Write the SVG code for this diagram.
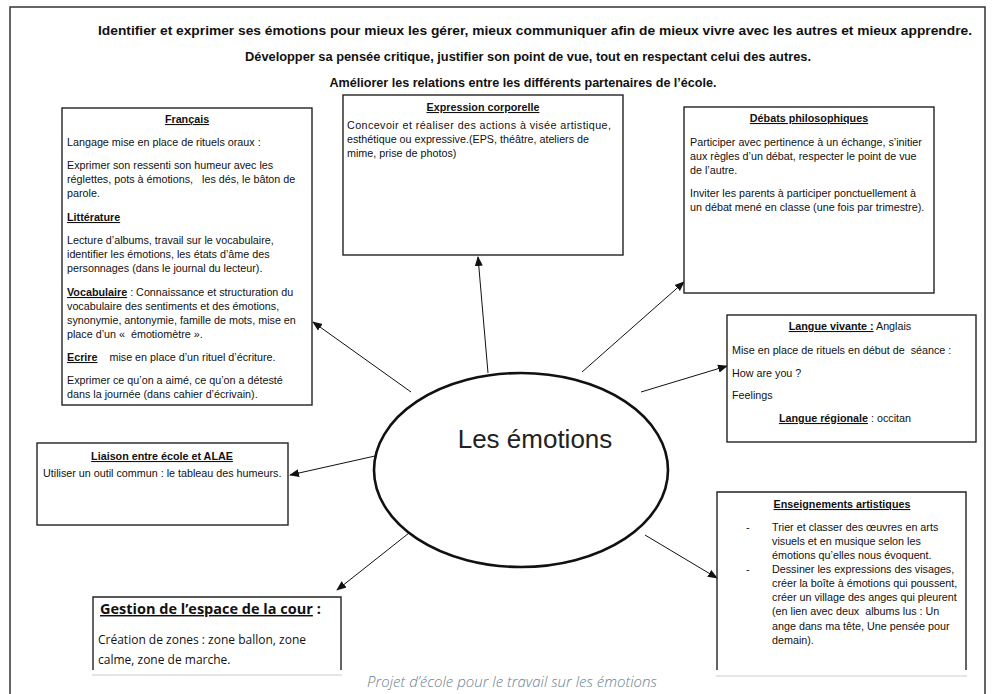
<svg xmlns="http://www.w3.org/2000/svg" width="997" height="694" viewBox="0 0 997 694">
<defs>
<marker id="ah" viewBox="0 0 10 10" refX="9" refY="5" markerWidth="10" markerHeight="10" markerUnits="userSpaceOnUse" orient="auto">
<path d="M0,1 L10,5 L0,9 z" fill="#111"/>
</marker>
<style>
.box{fill:#fff;stroke:#222;stroke-width:1.4}
.t{font-family:"Liberation Sans",Arial,sans-serif;font-size:10.75px;fill:#111;white-space:pre}
.h{font-family:"Liberation Sans",Arial,sans-serif;font-size:10.75px;font-weight:bold;fill:#111;text-decoration:underline}
.hd{font-family:"Liberation Sans",Arial,sans-serif;font-size:12.5px;font-weight:bold;fill:#111}
.c{font-family:"Open Sans","Noto Sans",sans-serif;font-size:12px;fill:#111}
.ct{font-family:"Open Sans","Noto Sans",sans-serif;font-size:14.5px;font-weight:bold;fill:#111}
.cap{font-family:"Open Sans","Noto Sans",sans-serif;font-size:15px;font-style:italic;font-weight:300;fill:#6b7f8f}
.ln{stroke:#111;stroke-width:1;fill:none;marker-end:url(#ah)}
.edge{stroke:#ccc;stroke-width:1}
</style>
</defs>
<rect width="997" height="694" fill="#fff"/>
<path d="M10,694 V7 H985 V694" fill="none" stroke="#333" stroke-width="1.5"/>
<g id="header">
<text class="hd" x="535" y="35" text-anchor="middle" textLength="874" lengthAdjust="spacingAndGlyphs">Identifier et exprimer ses émotions pour mieux les gérer, mieux communiquer afin de mieux vivre avec les autres et mieux apprendre.</text>
<text class="hd" x="528" y="61" text-anchor="middle" textLength="566" lengthAdjust="spacingAndGlyphs">Développer sa pensée critique, justifier son point de vue, tout en respectant celui des autres.</text>
<text class="hd" x="523" y="87" text-anchor="middle" textLength="387" lengthAdjust="spacingAndGlyphs">Améliorer les relations entre les différents partenaires de l’école.</text>
</g>
<g id="connectors">
<line class="ln" x1="411" y1="392" x2="313" y2="322"/>
<line class="ln" x1="488" y1="373" x2="478" y2="257"/>
<line class="ln" x1="582" y1="372" x2="684" y2="282"/>
<line class="ln" x1="641" y1="392" x2="727" y2="366"/>
<line class="ln" x1="375" y1="456" x2="290" y2="475"/>
<line class="ln" x1="409" y1="533" x2="337" y2="590"/>
<line class="ln" x1="645" y1="535" x2="717" y2="578"/>
</g>
<g id="center">
<ellipse cx="521" cy="470" rx="147" ry="97" fill="#fff" stroke="#111" stroke-width="2.6"/>
<text x="535" y="448" text-anchor="middle" font-family="Liberation Sans, Arial, sans-serif" font-size="26" fill="#222">Les émotions</text>
</g>
<g id="francais">
<rect class="box" x="62" y="108" width="250" height="297"/>
<text class="h" x="187" y="123" text-anchor="middle">Français</text>
<text class="t" x="67" y="146">Langage mise en place de rituels oraux :</text>
<text class="t" x="67" y="169">Exprimer son ressenti son humeur avec les</text>
<text class="t" x="67" y="183">réglettes, pots à émotions,   les dés, le bâton de</text>
<text class="t" x="67" y="197">parole.</text>
<text class="h" x="67" y="221">Littérature</text>
<text class="t" x="67" y="244">Lecture d’albums, travail sur le vocabulaire,</text>
<text class="t" x="67" y="258">identifier les émotions, les états d’âme des</text>
<text class="t" x="67" y="272">personnages (dans le journal du lecteur).</text>
<text class="t" x="67" y="296"><tspan class="h">Vocabulaire</tspan> : Connaissance et structuration du</text>
<text class="t" x="67" y="310">vocabulaire des sentiments et des émotions,</text>
<text class="t" x="67" y="324">synonymie, antonymie, famille de mots, mise en</text>
<text class="t" x="67" y="338">place d’un «  émotiomètre ».</text>
<text class="t" x="67" y="361"><tspan class="h">Ecrire</tspan>    mise en place d’un rituel d’écriture.</text>
<text class="t" x="67" y="384">Exprimer ce qu’on a aimé, ce qu’on a détesté</text>
<text class="t" x="67" y="398">dans la journée (dans cahier d’écrivain).</text>
</g>
<g id="expression">
<rect class="box" x="343" y="95" width="280" height="160"/>
<text class="h" x="483" y="111" text-anchor="middle">Expression corporelle</text>
<text class="t" x="347" y="129" textLength="264" lengthAdjust="spacing">Concevoir et réaliser des actions à visée artistique,</text>
<text class="t" x="347" y="143">esthétique ou expressive.(EPS, théâtre, ateliers de</text>
<text class="t" x="347" y="157">mime, prise de photos)</text>
</g>
<g id="debats">
<rect class="box" x="684" y="107" width="250" height="186"/>
<text class="h" x="809" y="122" text-anchor="middle">Débats philosophiques</text>
<text class="t" x="690" y="146">Participer avec pertinence à un échange, s’initier</text>
<text class="t" x="690" y="160">aux règles d’un débat, respecter le point de vue</text>
<text class="t" x="690" y="174">de l’autre.</text>
<text class="t" x="690" y="197">Inviter les parents à participer ponctuellement à</text>
<text class="t" x="690" y="211">un débat mené en classe (une fois par trimestre).</text>
</g>
<g id="langue">
<rect class="box" x="727" y="315" width="249" height="127"/>
<text class="t" x="850" y="330" text-anchor="middle"><tspan class="h">Langue vivante :</tspan> Anglais</text>
<text class="t" x="732" y="354">Mise en place de rituels en début de  séance :</text>
<text class="t" x="732" y="377">How are you ?</text>
<text class="t" x="732" y="399">Feelings</text>
<text class="t" x="845" y="422" text-anchor="middle"><tspan class="h">Langue régionale</tspan> : occitan</text>
</g>
<g id="liaison">
<rect class="box" x="37" y="443" width="251" height="82"/>
<text class="h" x="162" y="460" text-anchor="middle">Liaison entre école et ALAE</text>
<text class="t" x="43" y="477">Utiliser un outil commun : le tableau des humeurs.</text>
</g>
<g id="gestion">
<path class="box" d="M93,670 V597 H341 V670"/>
<line class="edge" x1="92" y1="675" x2="342" y2="675"/>
<text class="ct" x="100" y="614"><tspan text-decoration="underline">Gestion de l’espace de la cour</tspan> :</text>
<text class="c" x="98" y="644">Création de zones : zone ballon, zone</text>
<text class="c" x="98" y="664">calme, zone de marche.</text>
</g>
<g id="artistiques">
<path class="box" d="M717,670 V492 H966 V670"/>
<line class="edge" x1="716" y1="676" x2="967" y2="676"/>
<text class="h" x="842" y="508" text-anchor="middle">Enseignements artistiques</text>
<text class="t" x="746" y="531">-</text>
<text class="t" x="772" y="531">Trier et classer des œuvres en arts</text>
<text class="t" x="772" y="545">visuels et en musique selon les</text>
<text class="t" x="772" y="559">émotions qu’elles nous évoquent.</text>
<text class="t" x="746" y="573">-</text>
<text class="t" x="772" y="573">Dessiner les expressions des visages,</text>
<text class="t" x="772" y="587">créer la boîte à émotions qui poussent,</text>
<text class="t" x="772" y="601">créer un village des anges qui pleurent</text>
<text class="t" x="772" y="615">(en lien avec deux  albums lus : Un</text>
<text class="t" x="772" y="630">ange dans ma tête, Une pensée pour</text>
<text class="t" x="772" y="644">demain).</text>
</g>
<g id="caption">
<text class="cap" x="512" y="687" text-anchor="middle">Projet d’école pour le travail sur les émotions</text>
</g>
</svg>
